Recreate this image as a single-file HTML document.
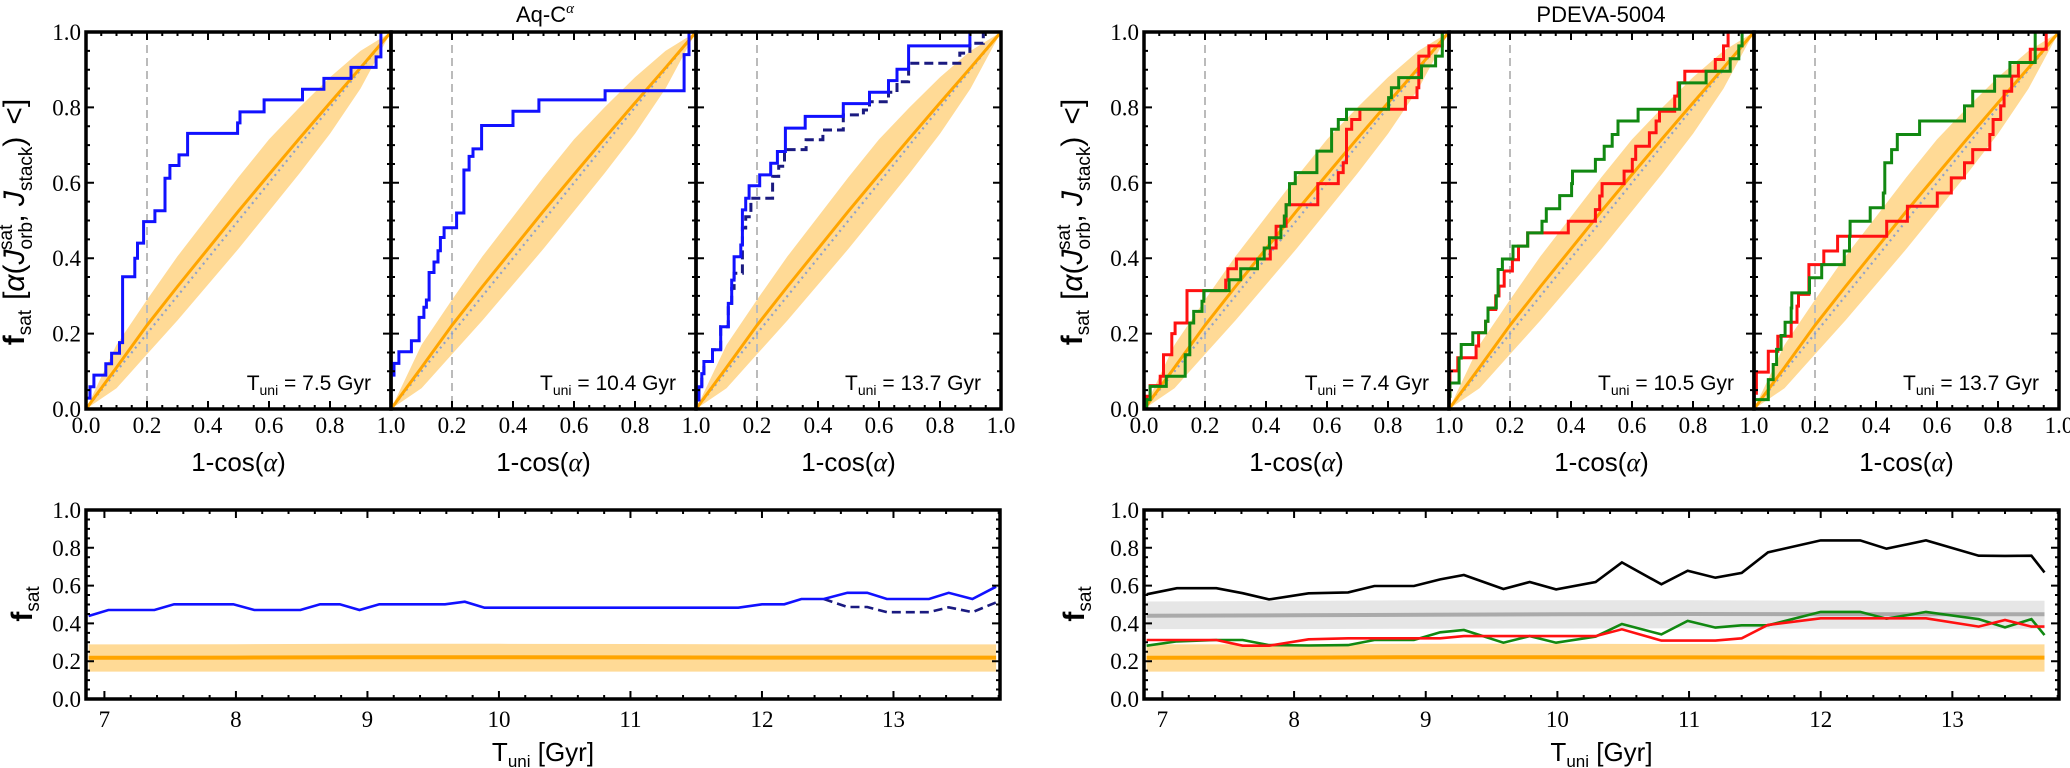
<!DOCTYPE html>
<html><head><meta charset="utf-8">
<style>
html,body{margin:0;padding:0;background:#fff;}
svg{display:block;}
text{font-family:"Liberation Sans","DejaVu Sans",sans-serif;}
.tick{font-family:"Liberation Serif","DejaVu Serif",serif;font-size:23px;fill:#000;}
</style></head>
<body>
<svg id="fig" xmlns="http://www.w3.org/2000/svg" width="2070" height="768" viewBox="0 0 2070 768"></svg>
<script>
// ---------- data ----------
const BAND_X    = [0,0.1,0.2,0.3,0.4,0.5,0.6,0.7,0.8,0.9,1.0];
const BAND_MEAN = [0,0.11,0.222,0.325,0.425,0.525,0.622,0.718,0.812,0.905,1.0];
const BAND_LO   = [0,0.055,0.145,0.235,0.33,0.425,0.525,0.625,0.73,0.85,1.0];
const BAND_HI   = [0,0.17,0.29,0.405,0.51,0.615,0.715,0.80,0.88,0.95,1.0];

const P1_X = [0,0.013,0.026,0.065,0.084,0.11,0.12,0.16,0.169,0.189,0.226,0.259,0.275,0.305,0.333,0.497,0.505,0.584,0.71,0.78,0.869,0.951,0.967];
const P1_Y = [0.029,0.059,0.09,0.12,0.148,0.176,0.351,0.40,0.44,0.497,0.526,0.612,0.646,0.674,0.731,0.759,0.788,0.82,0.848,0.877,0.906,0.934,1.0];
const P2_X = [0,0.0098,0.026,0.067,0.092,0.108,0.116,0.125,0.141,0.154,0.162,0.174,0.215,0.239,0.256,0.269,0.297,0.4,0.485,0.702,0.961,0.977];
const P2_Y = [0.09,0.121,0.152,0.181,0.243,0.27,0.289,0.362,0.39,0.42,0.455,0.481,0.52,0.634,0.67,0.69,0.752,0.79,0.82,0.844,0.94,1.0];
const P3_X = [0,0.01,0.019,0.026,0.054,0.081,0.106,0.117,0.125,0.147,0.152,0.163,0.174,0.209,0.245,0.267,0.293,0.358,0.483,0.569,0.631,0.659,0.697,0.898];
const P3_Y = [0.024,0.059,0.094,0.126,0.157,0.218,0.28,0.342,0.404,0.435,0.528,0.559,0.592,0.621,0.652,0.683,0.745,0.776,0.81,0.84,0.871,0.901,0.963,1.0];
const P3D_X = [0,0.01,0.019,0.026,0.054,0.081,0.106,0.117,0.125,0.152,0.163,0.18,0.251,0.271,0.29,0.361,0.416,0.483,0.549,0.569,0.631,0.659,0.697,0.865,0.898,0.942];
const P3D_Y = [0.024,0.059,0.094,0.126,0.157,0.218,0.28,0.32,0.36,0.48,0.51,0.559,0.617,0.644,0.688,0.714,0.74,0.78,0.793,0.815,0.84,0.868,0.917,0.944,0.97,1.0];

const P4R_X = [0,0.009,0.02,0.053,0.064,0.091,0.102,0.141,0.268,0.275,0.303,0.414,0.433,0.466,0.57,0.637,0.653,0.664,0.681,0.708,0.857,0.895,0.901,0.934,0.978];
const P4R_Y = [0.0,0.034,0.062,0.087,0.144,0.2,0.228,0.314,0.342,0.372,0.398,0.427,0.485,0.542,0.598,0.627,0.653,0.742,0.768,0.795,0.826,0.852,0.936,0.963,1.0];
const P4G_X = [0,0.009,0.02,0.073,0.135,0.15,0.163,0.19,0.196,0.279,0.317,0.372,0.394,0.411,0.449,0.46,0.466,0.477,0.496,0.567,0.615,0.637,0.664,0.802,0.811,0.835,0.91,0.956,0.978];
const P4G_Y = [0.0,0.025,0.06,0.087,0.144,0.228,0.259,0.286,0.314,0.343,0.372,0.398,0.427,0.454,0.485,0.512,0.542,0.598,0.627,0.684,0.742,0.768,0.795,0.826,0.852,0.879,0.91,0.936,1.0];
const P5R_X = [0,0.003,0.029,0.089,0.097,0.12,0.128,0.153,0.164,0.181,0.208,0.228,0.258,0.391,0.48,0.494,0.502,0.574,0.601,0.612,0.657,0.679,0.69,0.74,0.751,0.773,0.873,0.9,0.915];
const P5R_Y = [0.034,0.101,0.136,0.167,0.202,0.233,0.264,0.3,0.326,0.366,0.396,0.432,0.467,0.498,0.529,0.565,0.598,0.631,0.662,0.697,0.733,0.764,0.79,0.83,0.865,0.896,0.927,0.963,1.0];
const P5G_X = [0,0.003,0.033,0.04,0.078,0.12,0.128,0.155,0.161,0.175,0.21,0.258,0.305,0.319,0.363,0.402,0.405,0.48,0.509,0.535,0.554,0.62,0.756,0.843,0.922,0.95,0.961];
const P5G_Y = [0.034,0.069,0.135,0.171,0.202,0.233,0.268,0.3,0.37,0.398,0.432,0.467,0.498,0.531,0.566,0.598,0.631,0.662,0.697,0.728,0.764,0.795,0.865,0.896,0.929,0.963,1.0];
const P6R_X = [0,0.008,0.047,0.078,0.122,0.141,0.146,0.18,0.229,0.274,0.435,0.503,0.601,0.647,0.69,0.717,0.773,0.784,0.809,0.82,0.845,0.867,0.906,0.958];
const P6R_Y = [0.042,0.098,0.153,0.193,0.23,0.273,0.304,0.383,0.419,0.458,0.498,0.538,0.573,0.613,0.653,0.688,0.728,0.768,0.804,0.843,0.883,0.919,0.954,1.0];
const P6G_X = [0,0.047,0.063,0.074,0.089,0.102,0.122,0.124,0.182,0.222,0.296,0.313,0.315,0.381,0.424,0.429,0.451,0.47,0.543,0.69,0.717,0.789,0.839,0.922];
const P6G_Y = [0.025,0.078,0.118,0.158,0.195,0.23,0.268,0.308,0.348,0.383,0.419,0.458,0.498,0.534,0.573,0.653,0.688,0.728,0.764,0.804,0.843,0.883,0.919,1.0];

const X_TICKS = [0,0.2,0.4,0.6,0.8,1.0];
const X_TICK_LABELS = ["0.0","0.2","0.4","0.6","0.8","1.0"];
const Y_TICKS = [0,0.2,0.4,0.6,0.8,1.0];
const Y_TICK_LABELS = ["0.0","0.2","0.4","0.6","0.8","1.0"];
const T_TICKS = [7,8,9,10,11,12,13];
const T_TICK_LABELS = ["7","8","9","10","11","12","13"];

const AQ_T = [6.88,7.03,7.38,7.53,7.98,8.14,8.49,8.64,8.79,8.94,9.09,9.59,9.74,9.89,11.82,12.0,12.17,12.3,12.47,12.65,12.8,12.95,13.27,13.42,13.6,13.78];
const AQ_F = [0.439,0.471,0.471,0.501,0.501,0.471,0.471,0.501,0.501,0.471,0.501,0.501,0.515,0.483,0.483,0.501,0.501,0.529,0.529,0.562,0.562,0.529,0.529,0.562,0.529,0.594];
const AQD_T = [12.47,12.65,12.8,12.95,13.27,13.42,13.6,13.78];
const AQD_F = [0.529,0.487,0.487,0.459,0.459,0.485,0.459,0.511];

const PD_T = [6.88,7.11,7.41,7.61,7.81,8.11,8.41,8.61,8.91,9.11,9.29,9.59,9.79,9.99,10.29,10.49,10.79,10.99,11.2,11.4,11.6,12.0,12.3,12.5,12.8,13.2,13.4,13.6,13.7];
const PD_BLACK = [0.554,0.586,0.586,0.56,0.527,0.559,0.564,0.598,0.598,0.633,0.656,0.582,0.619,0.58,0.619,0.723,0.607,0.679,0.642,0.667,0.776,0.839,0.839,0.795,0.839,0.758,0.757,0.758,0.67];
const PD_GREEN = [0.282,0.305,0.312,0.312,0.285,0.283,0.285,0.312,0.312,0.353,0.365,0.298,0.333,0.298,0.33,0.397,0.342,0.413,0.378,0.39,0.39,0.461,0.461,0.425,0.461,0.423,0.379,0.423,0.338];
const PD_RED = [0.312,0.312,0.312,0.282,0.282,0.316,0.321,0.321,0.321,0.321,0.333,0.333,0.333,0.333,0.333,0.369,0.309,0.309,0.309,0.321,0.392,0.427,0.427,0.427,0.427,0.383,0.418,0.383,0.383];

const ISO_T = [6.88,8,9,10,11,12,13,13.78];
const ISO_MEAN = [0.218,0.219,0.221,0.221,0.22,0.219,0.219,0.219];
const ISO_LO = [0.145,0.145,0.145,0.145,0.145,0.145,0.145,0.145];
const ISO_HI = [0.289,0.29,0.292,0.292,0.291,0.289,0.289,0.289];
const GRAY_T = [6.88,8,9,10,11,12,13,13.7];
const GRAY_MEAN = [0.44,0.443,0.446,0.448,0.45,0.449,0.448,0.448];
const GRAY_LO = [0.37,0.37,0.372,0.373,0.374,0.372,0.372,0.372];
const GRAY_HI = [0.516,0.519,0.522,0.522,0.522,0.52,0.52,0.52];

// ---------- helpers ----------
const NS = "http://www.w3.org/2000/svg";
const svg = document.getElementById('fig');
function mk(tag, attrs, parent){
  const e = document.createElementNS(NS, tag);
  for (const k in attrs) e.setAttribute(k, attrs[k]);
  (parent||svg).appendChild(e);
  return e;
}
const ORANGE = "#ffa500", BAND = "#ffda96", BLUE = "#1111ff", NAVY = "#1a1a80", GREEN = "#118811", RED = "#ff1111";
let clipId = 0;

function axes(x0, y0, w, h, xmin, xmax, ymin, ymax){
  return {
    X: v => x0 + (v - xmin) / (xmax - xmin) * w,
    Y: v => y0 + h - (v - ymin) / (ymax - ymin) * h,
    x0, y0, w, h
  };
}
function clipFor(a){
  const id = 'c' + (clipId++);
  const cp = mk('clipPath', {id});
  mk('rect', {x:a.x0, y:a.y0, width:a.w, height:a.h}, cp);
  const g = mk('g', {'clip-path':'url(#'+id+')'});
  return g;
}
function bandPath(a, xs, lo, hi){
  let d = '';
  xs.forEach((v,i)=>{ d += (i? 'L':'M') + a.X(v).toFixed(1) + ',' + a.Y(hi[i]).toFixed(1); });
  for (let i = xs.length-1; i >= 0; i--) d += 'L' + a.X(xs[i]).toFixed(1) + ',' + a.Y(lo[i]).toFixed(1);
  return d + 'Z';
}
function linePath(a, xs, ys){
  return xs.map((v,i)=> (i?'L':'M') + a.X(v).toFixed(1) + ',' + a.Y(ys[i]).toFixed(1)).join('');
}
function stepPath(a, xs, ys){
  let d = 'M' + a.X(0).toFixed(1) + ',' + a.Y(0).toFixed(1);
  let prev = 0;
  xs.forEach((v,i)=>{
    d += 'L' + a.X(v).toFixed(1) + ',' + a.Y(prev).toFixed(1);
    d += 'L' + a.X(v).toFixed(1) + ',' + a.Y(ys[i]).toFixed(1);
    prev = ys[i];
  });
  d += 'L' + a.X(1).toFixed(1) + ',' + a.Y(prev).toFixed(1);
  return d;
}
function ticks(a, xmajor, xminor, ymajor, yminor){
  let d = '';
  const L = 8, l = 4;
  xmajor.forEach(v=>{ const x=a.X(v); d+=`M${x},${a.y0}v${L}M${x},${a.y0+a.h}v${-L}`; });
  xminor.forEach(v=>{ const x=a.X(v); d+=`M${x},${a.y0}v${l}M${x},${a.y0+a.h}v${-l}`; });
  ymajor.forEach(v=>{ const y=a.Y(v); d+=`M${a.x0},${y}h${L}M${a.x0+a.w},${y}h${-L}`; });
  yminor.forEach(v=>{ const y=a.Y(v); d+=`M${a.x0},${y}h${l}M${a.x0+a.w},${y}h${-l}`; });
  return d;
}
function rng(a,b,s){ const r=[]; for(let v=a; v<=b+1e-9; v+=s) r.push(+v.toFixed(4)); return r; }

// ---------- top CDF panels ----------
const TOP = [
  {x0:86, label:"7.5", lines:[{xs:P1_X, ys:P1_Y, c:BLUE, n:'cdf-aq-7.5'}]},
  {x0:391, label:"10.4", lines:[{xs:P2_X, ys:P2_Y, c:BLUE, n:'cdf-aq-10.4'}]},
  {x0:696, label:"13.7", lines:[{xs:P3D_X, ys:P3D_Y, c:NAVY, dash:'9,5', n:'cdf-aq-13.7-dashed'},{xs:P3_X, ys:P3_Y, c:BLUE, n:'cdf-aq-13.7'}]},
  {x0:1144, label:"7.4", lines:[{xs:P4R_X, ys:P4R_Y, c:RED, n:'cdf-pdeva-7.4-red'},{xs:P4G_X, ys:P4G_Y, c:GREEN, n:'cdf-pdeva-7.4-green'}]},
  {x0:1449, label:"10.5", lines:[{xs:P5R_X, ys:P5R_Y, c:RED, n:'cdf-pdeva-10.5-red'},{xs:P5G_X, ys:P5G_Y, c:GREEN, n:'cdf-pdeva-10.5-green'}]},
  {x0:1754, label:"13.7", lines:[{xs:P6R_X, ys:P6R_Y, c:RED, n:'cdf-pdeva-13.7-red'},{xs:P6G_X, ys:P6G_Y, c:GREEN, n:'cdf-pdeva-13.7-green'}]},
];
TOP.forEach((p, idx)=>{
  const a = axes(p.x0, 32, 305, 377, 0, 1, 0, 1);
  const g = clipFor(a);
  
  
  const band = mk('path', {d: bandPath(a, BAND_X, BAND_LO, BAND_HI), fill: BAND, stroke:'none'}, g);
  
  
  const vl = mk('line', {x1:a.X(0.2), x2:a.X(0.2), y1:a.y0, y2:a.y0+a.h, stroke:'#bbbbbb', 'stroke-width':2, 'stroke-dasharray':'8,5'}, g);
  
  
  const diag = mk('line', {x1:a.X(0), y1:a.Y(0), x2:a.X(1), y2:a.Y(1), stroke:'#8fa0c8', 'stroke-width':2.2, 'stroke-dasharray':'2,4'}, g);
  
  
  const mean = mk('path', {d: linePath(a, BAND_X, BAND_MEAN), fill:'none', stroke: ORANGE, 'stroke-width':3}, g);
  
  
  p.lines.forEach(L=>{
    const s = mk('path', {d: stepPath(a, L.xs, L.ys), fill:'none', stroke:L.c, 'stroke-width':3, 'stroke-linejoin':'miter'}, g);
    if (L.dash) s.setAttribute('stroke-dasharray', L.dash);
    
    
  });
  const tk = mk('path', {d: ticks(a, X_TICKS, rng(0,1,0.05), Y_TICKS, rng(0,1,0.05)), stroke:'#000', 'stroke-width':2, fill:'none'});
  
  
  const fr = mk('rect', {x:a.x0, y:a.y0, width:a.w, height:a.h, fill:'none', stroke:'#000', 'stroke-width':3.5});
  
  
  X_TICKS.forEach((v,i)=>{
    if (i===0 && idx!==0 && idx!==3) return;
    const t = mk('text', {x:a.X(v), y:433, 'text-anchor':'middle', class:'tick'});
    t.textContent = X_TICK_LABELS[i];
    
    
  });
  if (idx===0 || idx===3){
    Y_TICKS.forEach((v,i)=>{
      const t = mk('text', {x:a.x0-5, y:a.Y(v)+8, 'text-anchor':'end', class:'tick'});
      t.textContent = Y_TICK_LABELS[i];
      
      
    });
  }
  const xl = mk('text', {x:a.x0+a.w/2, y:471, 'text-anchor':'middle', 'font-size':26});
  xl.innerHTML = '1-cos(<tspan font-family="Liberation Serif, serif" font-style="italic">α</tspan>)';
  
  
  const tl = mk('text', {x:a.x0+a.w-20, y:390, 'text-anchor':'end', 'font-size':21});
  tl.innerHTML = 'T<tspan font-size="14" dy="5">uni</tspan><tspan dy="-5"> = ' + p.label + ' Gyr</tspan>';
  
  
});

// y-axis titles (top)
[24, 1082].forEach((x,i)=>{
  const t = mk('text', {transform:`translate(${x},222) rotate(-90)`, 'text-anchor':'middle', 'font-size':30, 'font-family':'Liberation Serif, serif'});
  t.innerHTML = '<tspan font-weight="bold">f</tspan><tspan font-size="19" dy="7">sat</tspan>' +
    '<tspan dy="-7" dx="10">[</tspan><tspan font-style="italic">α</tspan><tspan>(</tspan>' +
    '<tspan font-style="italic">J</tspan><tspan font-size="19" dy="8">orb</tspan>' +
    '<tspan font-size="19" dx="-28" dy="-20">sat</tspan>' +
    '<tspan dy="12" dx="2">, </tspan><tspan font-style="italic">J</tspan>' +
    '<tspan font-size="19" dy="8">stack</tspan><tspan dy="-8">)</tspan><tspan dx="12">&lt;]</tspan>';
  
  
});

// titles
const t1 = mk('text', {x:545, y:22, 'text-anchor':'middle', 'font-size':22});
t1.innerHTML = 'Aq-C<tspan font-size="15" dy="-9" font-family="Liberation Serif, serif" font-style="italic">α</tspan>';


const t2 = mk('text', {x:1601, y:22, 'text-anchor':'middle', 'font-size':22});
t2.textContent = 'PDEVA-5004';



// ---------- bottom time panels ----------
const BOT = [
  {x0:86, w:914, name:'fsat-time-aq'},
  {x0:1144, w:915, name:'fsat-time-pdeva'}
];
BOT.forEach((p, idx)=>{
  const a = axes(p.x0, 510, p.w, 189, 6.86, 13.81, 0, 1);
  const g = clipFor(a);
  
  
  if (idx===1){
    const gb = mk('path', {d: bandPath(a, GRAY_T, GRAY_LO, GRAY_HI), fill:'#e6e6e6'}, g);
    
    
    const gm = mk('path', {d: linePath(a, GRAY_T, GRAY_MEAN), fill:'none', stroke:'#aaaaaa', 'stroke-width':4}, g);
    
    
  }
  const T_END = idx ? GRAY_T : ISO_T;
  const ob = mk('path', {d: bandPath(a, T_END, ISO_LO, ISO_HI), fill: BAND}, g);
  
  
  const om = mk('path', {d: linePath(a, T_END, ISO_MEAN), fill:'none', stroke:ORANGE, 'stroke-width':4}, g);
  
  
  if (idx===0){
    const dl = mk('path', {d: linePath(a, AQD_T, AQD_F), fill:'none', stroke:NAVY, 'stroke-width':2.6, 'stroke-dasharray':'9,5'}, g);
    
    
    const bl = mk('path', {d: linePath(a, AQ_T, AQ_F), fill:'none', stroke:BLUE, 'stroke-width':2.6}, g);
    
    
  } else {
    const k = mk('path', {d: linePath(a, PD_T, PD_BLACK), fill:'none', stroke:'#000', 'stroke-width':2.6}, g);
    
    
    const gr = mk('path', {d: linePath(a, PD_T, PD_GREEN), fill:'none', stroke:GREEN, 'stroke-width':2.6}, g);
    
    
    const rd = mk('path', {d: linePath(a, PD_T, PD_RED), fill:'none', stroke:RED, 'stroke-width':2.6}, g);
    
    
  }
  const tk = mk('path', {d: ticks(a, T_TICKS, rng(7,13.8,0.2), Y_TICKS, rng(0,1,0.05)), stroke:'#000', 'stroke-width':2, fill:'none'});
  
  
  const fr = mk('rect', {x:a.x0, y:a.y0, width:a.w, height:a.h, fill:'none', stroke:'#000', 'stroke-width':3.5});
  
  
  T_TICKS.forEach((v,i)=>{
    const t = mk('text', {x:a.X(v), y:727, 'text-anchor':'middle', class:'tick'});
    t.textContent = T_TICK_LABELS[i];
    
    
  });
  Y_TICKS.forEach((v,i)=>{
    const t = mk('text', {x:a.x0-5, y:a.Y(v)+8, 'text-anchor':'end', class:'tick'});
    t.textContent = Y_TICK_LABELS[i];
    
    
  });
  const xl = mk('text', {x:a.x0+a.w/2, y:761, 'text-anchor':'middle', 'font-size':26});
  xl.innerHTML = 'T<tspan font-size="17" dy="6">uni</tspan><tspan dy="-6"> [Gyr]</tspan>';
  
  
  const yl = mk('text', {transform:`translate(${idx?1084:32},604) rotate(-90)`, 'text-anchor':'middle', 'font-size':30, 'font-family':'Liberation Serif, serif'});
  yl.innerHTML = '<tspan font-weight="bold">f</tspan><tspan font-size="19" dy="7">sat</tspan>';
  
  
});
</script>
</body></html>
